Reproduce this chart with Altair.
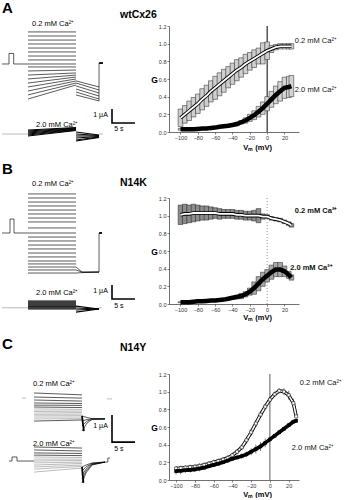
import altair as alt
import pandas as pd

FONT = "Liberation Sans"

# ======================= G–V data (Vm in mV, normalised G) =======================
VM = [-100, -95, -90, -85, -80, -75, -70, -65, -60, -55, -50, -45, -40, -35,
      -30, -25, -20, -15, -10, -5, 0, 5, 10, 15, 20, 25, 28]

# wtCx26
A_G02 = [0.16, 0.20, 0.24, 0.28, 0.32, 0.37, 0.41, 0.46, 0.50, 0.54, 0.58, 0.62, 0.66, 0.70,
         0.73, 0.77, 0.80, 0.83, 0.86, 0.89, 0.92, 0.94, 0.96, 0.97, 0.97, 0.97, 0.97]
A_E02 = [0.10, 0.10, 0.11, 0.11, 0.11, 0.12, 0.12, 0.12, 0.13, 0.13, 0.13, 0.12, 0.12, 0.12,
         0.11, 0.11, 0.10, 0.10, 0.09, 0.12, 0.10, 0.04, 0.03, 0.03, 0.03, 0.03, 0.03]
A_G20 = [0.03, 0.03, 0.03, 0.03, 0.035, 0.04, 0.04, 0.045, 0.05, 0.06, 0.065, 0.07, 0.08, 0.09,
         0.11, 0.13, 0.16, 0.19, 0.23, 0.27, 0.32, 0.37, 0.42, 0.46, 0.50, 0.51, 0.52]
A_E20 = [0.01, 0.01, 0.01, 0.01, 0.01, 0.01, 0.01, 0.01, 0.01, 0.01, 0.01, 0.015, 0.015, 0.02,
         0.02, 0.03, 0.04, 0.05, 0.06, 0.07, 0.08, 0.09, 0.10, 0.11, 0.12, 0.12, 0.12]

# N14K
B_G02 = [1.01, 1.02, 1.02, 1.03, 1.03, 1.03, 1.03, 1.03, 1.03, 1.02, 1.02, 1.02, 1.02, 1.01,
         1.01, 1.00, 1.00, 1.00, 1.00, 0.99, 0.99, 0.97, 0.96, 0.95, 0.93, 0.91, 0.89]
B_E02 = [0.11, 0.11, 0.10, 0.10, 0.09, 0.08, 0.08, 0.07, 0.06, 0.06, 0.05, 0.05, 0.05, 0.05,
         0.05, 0.05, 0.05, 0.06, 0.08, 0.03, 0.02, 0.02, 0.02, 0.02, 0.02, 0.02, 0.02]
B_G20 = [0.02, 0.02, 0.02, 0.025, 0.03, 0.03, 0.035, 0.04, 0.04, 0.045, 0.05, 0.06, 0.07, 0.08,
         0.09, 0.11, 0.14, 0.18, 0.23, 0.28, 0.32, 0.36, 0.39, 0.39, 0.37, 0.33, 0.30]
B_E20 = [0.005, 0.005, 0.005, 0.005, 0.005, 0.005, 0.005, 0.005, 0.01, 0.01, 0.01, 0.01, 0.015, 0.02,
         0.03, 0.03, 0.04, 0.07, 0.08, 0.08, 0.07, 0.08, 0.08, 0.08, 0.06, 0.04, 0.03]

# N14Y
C_G02 = [0.13, 0.135, 0.14, 0.145, 0.15, 0.16, 0.17, 0.185, 0.20, 0.215, 0.23, 0.25, 0.28, 0.32,
         0.37, 0.45, 0.54, 0.64, 0.74, 0.83, 0.91, 0.97, 1.01, 1.00, 0.96, 0.87, 0.72]
C_E02 = [0.03, 0.03, 0.03, 0.03, 0.03, 0.03, 0.03, 0.03, 0.03, 0.03, 0.03, 0.03, 0.03, 0.03,
         0.03, 0.04, 0.04, 0.04, 0.04, 0.03, 0.03, 0.03, 0.03, 0.04, 0.05, 0.05, 0.05]
C_G20 = [0.10, 0.105, 0.11, 0.115, 0.12, 0.13, 0.14, 0.155, 0.17, 0.185, 0.20, 0.22, 0.24, 0.255,
         0.27, 0.29, 0.32, 0.35, 0.38, 0.42, 0.46, 0.50, 0.54, 0.58, 0.62, 0.66, 0.67]
C_E20 = [0.04, 0.04, 0.03, 0.03, 0.03, 0.03, 0.02, 0.02, 0.02, 0.02, 0.02, 0.02, 0.02, 0.02,
         0.03, 0.03, 0.04, 0.05, 0.05, 0.05, 0.03, 0.02, 0.02, 0.02, 0.02, 0.02, 0.02]

V_TICKS = [-100, -80, -60, -40, -20, 0, 20]
G_TICKS = [0.0, 0.2, 0.4, 0.6, 0.8, 1.0, 1.2]

# curve labels on the G-V panels: (text, Vm, G)
A_CURVE_LABELS = [("0.2 mM Ca²⁺", 31.9, 1.03), ("2.0 mM Ca²⁺", 32.0, 0.47)]
B_CURVE_LABELS = [("0.2 mM Ca²⁺", 31.9, 1.05), ("2.0 mM Ca²⁺", 26.6, 0.41)]
C_CURVE_LABELS = [("0.2 mM Ca²⁺", 31.9, 1.10), ("2.0 mM Ca²⁺", 23.4, 0.36)]

# ======================= current traces (time in s, current in µA) =======================
# wtCx26
A_T = [5.65, 16.09, 21.09, 21.96]          # step on, step off, tail end, record end
A_PULSE = [1.52, 2.54, 0.75]                # pre-pulse start, end, amplitude
A02_FLAT = [2.29, 2.0, 1.71, 1.43, 1.14, 0.86, 0.57, 0.29, 0.0]
A02_SLOPE_START = [-0.21, -0.5, -0.79, -1.07, -1.36, -1.64, -1.93, -2.21, -2.5]
A02_SLOPE_END = [-0.21, -0.43, -0.64, -0.79, -0.93, -1.07, -1.21, -1.36, -1.5]
A02_TAIL_START = [-1.21, -1.36, -1.57, -1.79, -2.0, -2.21]
A02_TAIL_END = [-1.64, -1.86, -2.07, -2.29, -2.5, -2.64]
A20_STEP_START = [0.29, 0.21, 0.14, 0.07, 0.0, -0.07, -0.14]
A20_STEP_END = [0.46, 0.43, 0.39, 0.36, 0.32, 0.29, 0.25]
A20_TAIL_START = [0.14, 0.0, -0.14, -0.29, -0.43, -0.5]
A20_TAIL_END = [-0.07, -0.11, -0.14, -0.18, -0.21, -0.25]
A20_OFFSET = -5.0

# N14K
B_T = [5.65, 16.09, 21.09, 21.74]
B_PULSE = [1.74, 2.61, 1.0]
B02_FLAT = [2.79, 2.5, 2.21, 1.93, 1.64, 1.36, 1.07, 0.79, 0.36, 0.0, -0.29, -0.57, -0.86,
            -1.14, -1.43, -1.71, -2.0, -2.21, -2.43, -2.64, -2.86]
B02_TAIL_START = [-2.86, -2.43, -2.64]
B02_TAIL_MID = [-2.83, -2.79, -2.8]
B02_TAIL_END = -2.79
B20_FLAT = [0.48, 0.41, 0.34, 0.27, 0.2, 0.12, 0.05, -0.02, -0.09]
B20_TAIL_START = [0.12, -0.02, -0.16, -0.31]
B20_TAIL_END = -0.09
B20_OFFSET = -5.34

# N14Y
C_T = [6.96, 17.39, 22.39]
C02_STEP_START = [0.26, 0.11, 0.0, -0.11, -0.19, -0.26, -0.33, -0.41, -0.44, -0.52, -0.56, -0.63, -0.70, -0.78]
C02_STEP_END = [0.19, 0.07, -0.04, -0.13, -0.20, -0.28, -0.35, -0.41, -0.46, -0.52, -0.57, -0.63, -0.69, -0.74]
C02_TAIL_T = [17.39, 18.5, 19.57, 22.39]
C02_TAIL = [[-0.59, -0.65, -0.69, -0.70], [-0.78, -0.72, -0.70, -0.70],
            [-0.96, -0.78, -0.71, -0.70], [-1.15, -0.85, -0.72, -0.70]]
C02_MARK = [4.35, 5.2, 0.07]
C20_PULSE = [2.17, 3.26, 0.15]
C20_STEP_START = [0.52, 0.41, 0.30, 0.22, 0.15, 0.07, 0.0, -0.07, -0.15, -0.22, -0.30, -0.41]
C20_STEP_END = [0.48, 0.37, 0.28, 0.20, 0.13, 0.07, 0.02, -0.04, -0.09, -0.15, -0.20, -0.26]
C20_TAIL_T = [17.39, 18.26, 19.57, 22.39]
C20_TAIL = [[-0.22, -0.15, -0.07, -0.04], [-0.37, -0.22, -0.09, -0.04], [-0.52, -0.30, -0.11, -0.04],
            [-0.67, -0.37, -0.13, -0.04], [-0.81, -0.44, -0.15, -0.04]]
C20_OFFSET = -2.26

# scale bars: 1 µA by 5 s, (t of corner, current of corner)
SCALE_A = (23.91, -4.21)
SCALE_B = (23.91, -4.71)
SCALE_C = (23.91, -1.56)

# ======================= layout =======================
TRACE_W = 140
T_DOM = [0, 30.43]
DOM_A = [-4.857, 2.714]
DOM_B = [-5.357, 2.5]
DOM_C = [-2.963, 0.963]
H_A, H_B, H_C = 106, 110, 106
GV_W, GV_H = 130, 106


def polylines(lines):
    rows = []
    for i, pts in enumerate(lines):
        for k, (t, c) in enumerate(pts):
            rows.append({"id": i, "k": k, "t": t, "I": c})
    return pd.DataFrame(rows)


def tx(dom):
    return (alt.X("t:Q", scale=alt.Scale(domain=T_DOM, nice=False, zero=False), axis=None),
            alt.Y("I:Q", scale=alt.Scale(domain=dom, nice=False, zero=False), axis=None))


def line_layer(lines, dom, color="black", width=0.6):
    x, y = tx(dom)
    return alt.Chart(polylines(lines)).mark_line(color=color, strokeWidth=width).encode(
        x=x, y=y, detail="id:N", order="k:Q")


def text_layer(items, dom, **kw):
    x, y = tx(dom)
    df = pd.DataFrame([{"s": s, "t": t, "I": c} for s, t, c in items])
    return alt.Chart(df).mark_text(font=FONT, color="black", **kw).encode(x=x, y=y, text="s:N")


def segs(t0, t1, starts, ends, off=0.0):
    return [[(t0, s + off), (t1, e + off)] for s, e in zip(starts, ends)]


def scale_bar(corner, dom):
    t0, c0 = corner
    return line_layer([[(t0, c0 + 1.0), (t0, c0), (t0 + 5.0, c0)]], dom, width=1.6)


def trace_panel(black, gray, heavy, thick, corner, dom, h, letter, title, labels, scale_txt):
    layers = [line_layer(gray, dom, color="#777", width=0.5),
              line_layer(black, dom, color="black", width=0.65),
              line_layer(heavy, dom, color="black", width=1.1),
              line_layer(thick, dom, color="black", width=1.8),
              scale_bar(corner, dom),
              text_layer([letter], dom, fontSize=15, fontWeight="bold", align="left", baseline="top"),
              text_layer([title], dom, fontSize=10.5, fontWeight="bold", align="left", baseline="alphabetic"),
              text_layer(labels, dom, fontSize=7.5, align="center", baseline="middle"),
              text_layer(scale_txt[:1], dom, fontSize=7, align="right", baseline="middle"),
              text_layer(scale_txt[1:], dom, fontSize=7, align="center", baseline="middle")]
    return alt.layer(*layers).properties(width=TRACE_W, height=h)


# ---------- panel A traces ----------
on, off, end, post = A_T
A_black = ([[(0, 0), (A_PULSE[0], 0), (A_PULSE[0], A_PULSE[2]), (A_PULSE[1], A_PULSE[2]),
             (A_PULSE[1], 0), (on, 0)]]
           + [[(on, v), (off, v)] for v in A02_FLAT]
           + segs(on, off, A02_SLOPE_START, A02_SLOPE_END)
           + segs(off, end, A02_TAIL_START, A02_TAIL_END)
           + [[(end, A02_TAIL_END[-1]), (end, 0.07)]])
A_heavy = (segs(on, off, A20_STEP_START, A20_STEP_END, A20_OFFSET)
           + segs(off, end, A20_TAIL_START, A20_TAIL_END, A20_OFFSET))
A_gray = [[(0, A20_OFFSET), (on, A20_OFFSET)], [(end, A20_OFFSET), (post, A20_OFFSET)]]
A_thick = [[(end, 0.07), (post, 0.07)]]
trA = trace_panel(A_black, A_gray, A_heavy, A_thick, SCALE_A, DOM_A, H_A,
                  ("A", 0, 4.5), ("wtCx26", 25.65, 3.29),
                  [("0.2 mM Ca²⁺", 11.1, 2.86), ("2.0 mM Ca²⁺", 12.0, -4.36)],
                  [("1 µA", 23.0, -3.64), ("5 s", 25.4, -4.64)])

# ---------- panel B traces ----------
on, off, end, post = B_T
B_black = ([[(0, 0), (B_PULSE[0], 0), (B_PULSE[0], B_PULSE[2]), (B_PULSE[1], B_PULSE[2]),
             (B_PULSE[1], 0), (on, 0)]]
           + [[(on, v), (off, v)] for v in B02_FLAT]
           + [[(off, s), (off + 1.3, m), (end, B02_TAIL_END)] for s, m in zip(B02_TAIL_START, B02_TAIL_MID)]
           + [[(end, B02_TAIL_END), (end, 0.0)]])
B_heavy = ([[(on, v + B20_OFFSET), (off, v + B20_OFFSET)] for v in B20_FLAT]
           + [[(off, s + B20_OFFSET), (end, B20_TAIL_END + B20_OFFSET)] for s in B20_TAIL_START])
B_gray = [[(0, B20_OFFSET), (on, B20_OFFSET)], [(end, B20_OFFSET), (post, B20_OFFSET)]]
B_thick = [[(end, 0.0), (post, 0.0)]]
trB = trace_panel(B_black, B_gray, B_heavy, B_thick, SCALE_B, DOM_B, H_B,
                  ("B", 0, 5.07), ("N14K", 25.65, 3.36),
                  [("0.2 mM Ca²⁺", 11.1, 3.5), ("2.0 mM Ca²⁺", 12.0, -4.29)],
                  [("1 µA", 23.0, -4.14), ("5 s", 25.4, -5.21)])

# ---------- panel C traces ----------
on, off, end = C_T
C_black = (segs(on, off, C02_STEP_START[:6], C02_STEP_END[:6])
           + segs(on, off, C02_STEP_START[-1:], C02_STEP_END[-1:])
           + [list(zip(C02_TAIL_T, c)) for c in C02_TAIL]
           + segs(on, off, C20_STEP_START[:4], C20_STEP_END[:4], C20_OFFSET)
           + [[(t, c + C20_OFFSET) for t, c in zip(C20_TAIL_T, cur)] for cur in C20_TAIL]
           + [[(1.52, C20_OFFSET), (C20_PULSE[0], C20_OFFSET), (C20_PULSE[0], C20_PULSE[2] + C20_OFFSET),
               (C20_PULSE[1], C20_PULSE[2] + C20_OFFSET), (C20_PULSE[1], C20_OFFSET), (on, C20_OFFSET)],
              [(end, -0.04 + C20_OFFSET), (23.0, -0.04 + C20_OFFSET), (23.0, 0.11 + C20_OFFSET),
               (23.5, 0.11 + C20_OFFSET)]])
C_gray = (segs(on, off, C02_STEP_START[6:-1], C02_STEP_END[6:-1])
          + segs(on, off, C20_STEP_START[4:], C20_STEP_END[4:], C20_OFFSET)
          + [[(C02_MARK[0], C02_MARK[2]), (C02_MARK[1], C02_MARK[2])],
             [(22.8, 0.04), (23.9, 0.04)]])
C_thick = [[(off, C02_TAIL[0][0]), (off + 0.4, C02_TAIL[-1][0])],
           [(off, C20_TAIL[0][0] + C20_OFFSET), (off + 0.3, C20_TAIL[-1][0] + C20_OFFSET)]]
trC = trace_panel(C_black, C_gray, [], C_thick, SCALE_C, DOM_C, H_C,
                  ("C", 0, 2.33), ("N14Y", 25.65, 1.81),
                  [("0.2 mM Ca²⁺", 11.3, 0.59), ("2.0 mM Ca²⁺", 11.3, -1.63)],
                  [("1 µA", 23.0, -0.96), ("5 s", 25.4, -1.81)])


# ======================= G-V panels =======================
def gv_panel(g02, e02, g20, e20, curve_labels, style, xtitle_y, bold_labels=False):
    xax = alt.Axis(values=V_TICKS, format="d", title="Vₘ (mV)", titleFont=FONT, titleFontSize=7.5,
                   titleFontWeight="bold", titleX=88, titleY=xtitle_y, titleAlign="center",
                   titleBaseline="middle", labelFont=FONT, labelFontSize=5.5, labelColor="#333",
                   labelOverlap=False, labelPadding=1, tickSize=2, tickWidth=0.6, tickColor="#333",
                   domainColor="#333", domainWidth=0.7, grid=False)
    yax = alt.Axis(values=G_TICKS, format=".1f", title="G", titleFont=FONT, titleFontSize=8.5,
                   titleFontWeight="bold", titleAngle=0, titleX=-15, titleY=GV_H / 2,
                   titleAlign="center", titleBaseline="middle", labelFont=FONT, labelFontSize=5.5,
                   labelColor="#333", labelPadding=1, tickSize=2, tickWidth=0.6, tickColor="#333",
                   domainColor="#333", domainWidth=0.7, grid=False)
    xs = alt.Scale(domain=[-107.5, 31], nice=False, zero=False)
    ys = alt.Scale(domain=[0, 1.2], nice=False, zero=False)
    X = alt.X("V:Q", scale=xs, axis=xax)

    def frame(g, e):
        return pd.DataFrame({"V": VM, "G": g,
                             "lo": [a - b for a, b in zip(g, e)],
                             "hi": [a + b for a, b in zip(g, e)]})

    d02, d20 = frame(g02, e02), frame(g20, e20)
    Yg = alt.Y("G:Q", scale=ys, axis=yax)
    Ylo = alt.Y("lo:Q", scale=ys, axis=yax)

    layers = []
    if style == "A":
        layers.append(alt.Chart(pd.DataFrame({"V": [0]})).mark_rule(color="black", strokeWidth=1).encode(x=X))
    elif style == "B":
        layers.append(alt.Chart(pd.DataFrame({"V": [0]})).mark_rule(color="#777", strokeWidth=0.8,
                                                                    strokeDash=[1, 2]).encode(x=X))
    else:
        layers.append(alt.Chart(pd.DataFrame({"V": [0]})).mark_rule(color="#333", strokeWidth=0.8).encode(x=X))

    if style in ("A", "B"):
        f02 = "#cfcfcf" if style == "A" else "#8c8c8c"
        f20 = "#d4d4d4" if style == "A" else "#a8a8a8"
        layers.append(alt.Chart(d02).mark_bar(width=4.7, fill=f02, stroke="#222", strokeWidth=0.5)
                      .encode(x=X, y=Ylo, y2="hi:Q"))
        layers.append(alt.Chart(d02).mark_line(color="black", strokeWidth=3.6).encode(x=X, y=Yg))
        layers.append(alt.Chart(d02).mark_line(color="white", strokeWidth=1.8).encode(x=X, y=Yg))
        layers.append(alt.Chart(d20).mark_bar(width=4.7, fill=f20, stroke="#222", strokeWidth=0.5)
                      .encode(x=X, y=Ylo, y2="hi:Q"))
        layers.append(alt.Chart(d20).mark_line(color="black", strokeWidth=4.5).encode(x=X, y=Yg))
    else:
        layers.append(alt.Chart(d02).mark_rule(color="#444", strokeWidth=0.7).encode(x=X, y=Ylo, y2="hi:Q"))
        layers.append(alt.Chart(d20).mark_rule(color="#444", strokeWidth=0.7).encode(x=X, y=Ylo, y2="hi:Q"))
        layers.append(alt.Chart(d02).mark_line(color="black", strokeWidth=3.4).encode(x=X, y=Yg))
        layers.append(alt.Chart(d02).mark_line(color="white", strokeWidth=1.6).encode(x=X, y=Yg))
        layers.append(alt.Chart(d02).mark_square(size=9, fill="white", stroke="#222", strokeWidth=0.6,
                                                 opacity=1).encode(x=X, y=Yg))
        layers.append(alt.Chart(d20).mark_line(color="black", strokeWidth=3.6).encode(x=X, y=Yg))
        layers.append(alt.Chart(d20).mark_square(size=12, color="black", opacity=1).encode(x=X, y=Yg))

    lab = pd.DataFrame([{"s": s, "V": v, "G": g} for s, v, g in curve_labels])
    layers.append(alt.Chart(lab).mark_text(font=FONT, fontSize=7.5, align="left", baseline="middle",
                                           color="#111", fontWeight="bold" if bold_labels else "normal")
                  .encode(x=X, y=Yg, text="s:N"))
    return alt.layer(*layers).properties(width=GV_W, height=GV_H)


gvA = gv_panel(A_G02, A_E02, A_G20, A_E20, A_CURVE_LABELS, "A", 15)
gvB = gv_panel(B_G02, B_E02, B_G20, B_E20, B_CURVE_LABELS, "B", 13, bold_labels=True)
gvC = gv_panel(C_G02, C_E02, C_G20, C_E20, C_CURVE_LABELS, "C", 14)

chart = alt.concat(trA, gvA, trB, gvB, trC, gvC, columns=2,
                   spacing={"row": 66, "column": 27}, bounds="flush").properties(
    padding={"left": 0, "top": 0, "right": 0, "bottom": 0},
    background="white",
).configure_view(stroke=None)

chart.save("out.html", embed_options={"renderer": "svg", "actions": False})
